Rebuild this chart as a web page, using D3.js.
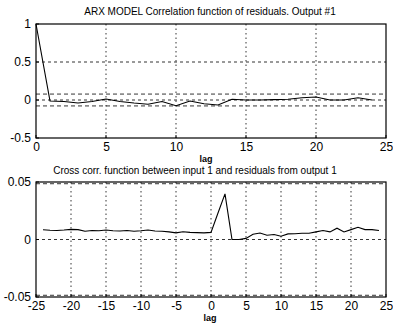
<!DOCTYPE html>
<html><head><meta charset="utf-8">
<script src="https://cdn.jsdelivr.net/npm/d3@7"></script>
<style>
body{margin:0;background:#fff;}
text{font-family:"Liberation Sans",Arial,sans-serif;fill:#000;}
</style></head>
<body><svg id="c" width="393" height="327"></svg>
<script>
// Top: auto-correlation of residuals, lags 0..24
const autoLags = d3.range(0, 25);
const autoVals = [1.0, -0.013, -0.02, -0.04, -0.02, 0.013, -0.02, -0.04, -0.055, -0.02, -0.075, -0.013, -0.05,
  -0.065, 0.01, 0.0, 0.0, 0.005, 0.01, 0.03, 0.04, 0.0, 0.0, 0.03, 0.0];
const autoConf = 0.078;
const autoXTicks = [0, 5, 10, 15, 20, 25];
const autoYTicks = [-0.5, 0, 0.5, 1];
const autoTitle = "ARX MODEL Correlation function of residuals. Output #1";

// Bottom: cross-correlation input 1 / residuals, lags -24..24
const crossLags = d3.range(-24, 25);
const crossVals = [0.0085, 0.008, 0.0078, 0.0082, 0.0088, 0.0086, 0.0072, 0.0078, 0.0076, 0.0082, 0.0076, 0.0074,
  0.0078, 0.0072, 0.0076, 0.0082, 0.0074, 0.0072, 0.0066, 0.0058, 0.0068, 0.0062, 0.006, 0.0058,
  0.0062, 0.023, 0.0397, 0.0, 0.0, 0.001, 0.0046, 0.0057, 0.0037, 0.0043, 0.0029, 0.0049, 0.005,
  0.0055, 0.0055, 0.0066, 0.0078, 0.0066, 0.0098, 0.0066, 0.0086, 0.0106, 0.0086, 0.0086, 0.0078];
const crossConf = 0.0485;
const crossXTicks = [-25, -20, -15, -10, -5, 0, 5, 10, 15, 20, 25];
const crossYTicks = [-0.05, 0, 0.05];
const crossTitle = "Cross corr. function between input 1 and residuals from output 1";
const xLabel = "lag";

const svg = d3.select("#c");
const fmt = d => String(d);

function panel(o) {
  const x = d3.scaleLinear().domain(o.xd).range([o.left, o.right]);
  const y = d3.scaleLinear().domain(o.yd).range([o.bottom, o.top]);
  const g = svg.append("g");
  // grid
  g.selectAll(".gx").data(o.xt.filter(v => v > o.xd[0] && v < o.xd[1])).join("line")
    .attr("x1", d => x(d)).attr("x2", d => x(d)).attr("y1", o.top).attr("y2", o.bottom)
    .attr("stroke", "#000").attr("stroke-width", 0.8).attr("stroke-dasharray", "1.5,3");
  g.selectAll(".gy").data(o.yt.filter(v => v > o.yd[0] && v < o.yd[1])).join("line")
    .attr("y1", d => y(d)).attr("y2", d => y(d)).attr("x1", o.left).attr("x2", o.right)
    .attr("stroke", "#000").attr("stroke-width", 0.8).attr("stroke-dasharray", "3,3");
  // confidence
  [o.conf, -o.conf].forEach(c => {
    g.append("line").attr("x1", o.left).attr("x2", o.right).attr("y1", y(c)).attr("y2", y(c))
      .attr("stroke", "#000").attr("stroke-width", 0.8).attr("stroke-dasharray", "4,3");
  });
  // axes
  const ax = g.append("g").attr("transform", `translate(0,${o.bottom})`)
    .call(d3.axisBottom(x).tickValues(o.xt).tickSize(0).tickPadding(4).tickFormat(fmt));
  const ay = g.append("g").attr("transform", `translate(${o.left},0)`)
    .call(d3.axisLeft(y).tickValues(o.yt).tickSize(0).tickPadding(5).tickFormat(fmt));
  [ax, ay].forEach(a => { a.select(".domain").remove(); a.selectAll("text").attr("font-size", 12).attr("font-family", "Liberation Sans, Arial, sans-serif").attr("fill", "#000"); });
  // inner ticks
  g.selectAll(".tx").data(o.xt).join("line").attr("x1", d => x(d)).attr("x2", d => x(d))
    .attr("y1", o.bottom).attr("y2", o.bottom - 3).attr("stroke", "#000");
  g.selectAll(".ty").data(o.yt).join("line").attr("y1", d => y(d)).attr("y2", d => y(d))
    .attr("x1", o.left).attr("x2", o.left + 3).attr("stroke", "#000");
  g.append("rect").attr("x", o.left).attr("y", o.top).attr("width", o.right - o.left).attr("height", o.bottom - o.top)
    .attr("fill", "none").attr("stroke", "#000").attr("stroke-width", 1.2);
  // data line
  g.append("path").datum(o.lags.map((l, i) => [l, o.vals[i]]))
    .attr("d", d3.line().x(d => x(d[0])).y(d => y(d[1])))
    .attr("fill", "none").attr("stroke", "#000").attr("stroke-width", 1.1);
  // title and label
  svg.append("text").attr("x", o.tx).attr("y", o.ty).attr("text-anchor", "middle").attr("font-size", 10).text(o.title);
  svg.append("text").attr("x", o.lx).attr("y", o.ly).attr("text-anchor", "middle").attr("font-size", 9).attr("font-weight", "bold").text(xLabel);
}

panel({xd: [0, 25], yd: [-0.5, 1], left: 36, right: 386, top: 24, bottom: 138,
  xt: autoXTicks, yt: autoYTicks, conf: autoConf,
  lags: autoLags, vals: autoVals, title: autoTitle, tx: 210, ty: 15, lx: 206, ly: 162});
panel({xd: [-25, 25], yd: [-0.05, 0.05], left: 36, right: 386, top: 182, bottom: 297,
  xt: crossXTicks, yt: crossYTicks, conf: crossConf,
  lags: crossLags, vals: crossVals, title: crossTitle, tx: 195, ty: 174, lx: 210, ly: 321});
</script></body></html>
